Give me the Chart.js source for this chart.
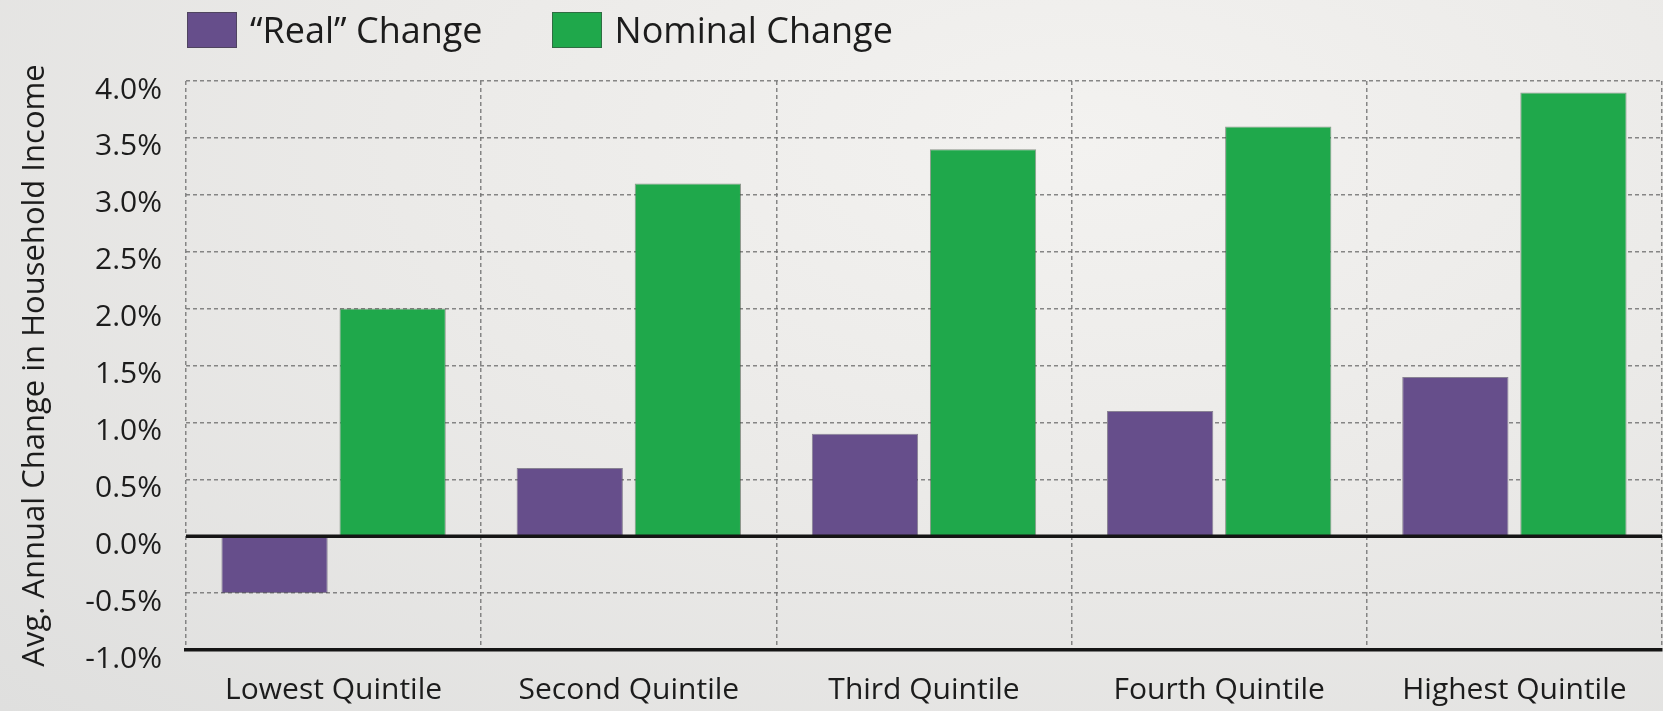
<!DOCTYPE html>
<html>
<head>
<meta charset="utf-8">
<title>Household Income Change by Quintile</title>
<script src="https://cdn.jsdelivr.net/npm/chart.js@4"></script>
<style>
    html, body {
        margin: 0;
        padding: 0;
        overflow: hidden;
    }
    body {
        width: 1663px;
        height: 711px;
        background: radial-gradient(ellipse at 65% 20%, #f3f2f0 0%, #ebeae8 45%, #dfdfde 100%);
        font-family: 'Open Sans', sans-serif;
        color: #1c1c1c;
    }
    .chart-wrap {
        position: relative;
        width: 1663px;
        height: 711px;
    }
    #legend {
        position: absolute;
        left: 187px;
        top: 12px;
        display: flex;
        gap: 69px;
    }
    .legend-item {
        display: flex;
        align-items: center;
        font-size: 36px;
        line-height: 36px;
    }
    .legend-box {
        width: 50px;
        height: 36px;
        box-sizing: border-box;
        border: 1px solid rgba(60, 60, 60, 0.55);
        margin-right: 13px;
    }
</style>
</head>
<body>
<div class="chart-wrap">
    <canvas id="incomeChart"></canvas>
    <div id="legend"></div>
</div>
<script>
const quintiles = ['Lowest Quintile', 'Second Quintile', 'Third Quintile', 'Fourth Quintile', 'Highest Quintile'];
const seriesNames = ['\u201CReal\u201D Change', 'Nominal Change'];
const realChange = [-0.5, 0.6, 0.9, 1.1, 1.4];
const nominalChange = [2.0, 3.1, 3.4, 3.6, 3.9];
const yMin = -1.0;
const yMax = 4.0;
const yStep = 0.5;

const purple = '#664e8b';
const green = '#1fa84b';
const gridGray = 'rgba(115, 115, 115, 0.85)';

// solid black line at 0%
const zeroLinePlugin = {
    id: 'zeroLine',
    afterDatasetsDraw(chart) {
        const { ctx, chartArea, scales } = chart;
        const y = scales.y.getPixelForValue(0);
        ctx.save();
        ctx.strokeStyle = '#151515';
        ctx.lineWidth = 3.5;
        ctx.beginPath();
        ctx.moveTo(chartArea.left, y);
        ctx.lineTo(chartArea.right, y);
        ctx.stroke();
        ctx.restore();
    }
};

document.addEventListener('DOMContentLoaded', function () {
    Chart.defaults.font.family = "'Open Sans', sans-serif";
    Chart.defaults.color = '#1c1c1c';

    const ctx = document.getElementById('incomeChart').getContext('2d');
    const incomeChart = new Chart(ctx, {
        type: 'bar',
        data: {
            labels: quintiles,
            datasets: [
                {
                    label: seriesNames[0],
                    data: realChange,
                    backgroundColor: purple,
                    borderColor: 'rgba(70, 60, 90, 0.6)',
                    borderWidth: 1
                },
                {
                    label: seriesNames[1],
                    data: nominalChange,
                    backgroundColor: green,
                    borderColor: 'rgba(60, 80, 60, 0.55)',
                    borderWidth: 1
                }
            ]
        },
        options: {
            responsive: true,
            maintainAspectRatio: false,
            animation: false,
            categoryPercentage: 0.8,
            barPercentage: 0.9,
            layout: {
                padding: { top: 81, left: 13, right: 1, bottom: 3 }
            },
            plugins: {
                legend: { display: false },
                tooltip: { enabled: false }
            },
            scales: {
                x: {
                    afterFit: scale => { scale.height = 58; },
                    grid: {
                        display: true,
                        offset: true,
                        color: gridGray,
                        lineWidth: 1.5,
                        drawTicks: false
                    },
                    border: {
                        display: true,
                        color: '#151515',
                        width: 3.5,
                        dash: [4, 3]
                    },
                    ticks: {
                        padding: 22,
                        font: { size: 30 }
                    }
                },
                y: {
                    min: yMin,
                    max: yMax,
                    afterFit: scale => { scale.width = 173; },
                    grid: {
                        color: c => (c.tick && c.tick.value === 0) ? 'rgba(0,0,0,0)' : gridGray,
                        lineWidth: 1.5,
                        drawTicks: false
                    },
                    border: {
                        display: false,
                        dash: [4, 3]
                    },
                    ticks: {
                        stepSize: yStep,
                        padding: 24,
                        labelOffset: 9,
                        font: { size: 30 },
                        callback: value => value.toFixed(1) + '%'
                    },
                    title: {
                        display: true,
                        text: 'Avg. Annual Change in Household Income',
                        font: { size: 31 },
                        padding: { top: 4, bottom: 4 }
                    }
                }
            }
        },
        plugins: [zeroLinePlugin]
    });

    // legend drawn as html, built from the chart datasets
    const legendEl = document.getElementById('legend');
    incomeChart.data.datasets.forEach(ds => {
        const item = document.createElement('div');
        item.className = 'legend-item';
        const box = document.createElement('span');
        box.className = 'legend-box';
        box.style.background = ds.backgroundColor;
        const text = document.createElement('span');
        text.textContent = ds.label;
        item.appendChild(box);
        item.appendChild(text);
        legendEl.appendChild(item);
    });
});
</script>
</body>
</html>
